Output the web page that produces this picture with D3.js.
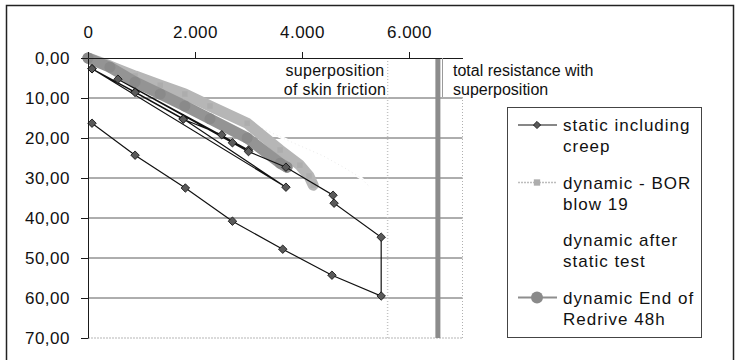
<!DOCTYPE html>
<html>
<head>
<meta charset="utf-8">
<script src="https://cdn.jsdelivr.net/npm/d3@7"></script>
<style>
  body { margin: 0; background: #fff; }
  svg { display: block; font-family: "Liberation Sans", Arial, sans-serif; }
</style>
</head>
<body>
<div id="chart"></div>
<script>
// load in kN (x), settlement in mm (y, downwards)
var xTicks = [0, 2000, 4000, 6000]
var yTicks = [0, 10, 20, 30, 40, 50, 60, 70]

var staticCreep = [
  {load: 75,   s: 2.7},
  {load: 880,  s: 8.5},
  {load: 1780, s: 15.2},
  {load: 3700, s: 32.3},
  {load: 75,   s: 2.7},
  {load: 880,  s: 8.6},
  {load: 1780, s: 15.3},
  {load: 2500, s: 19.2},
  {load: 2700, s: 21.2},
  {load: 3000, s: 23.0},
  {load: 560,  s: 5.3},
  {load: 3000, s: 23.4},
  {load: 3700, s: 27.3},
  {load: 4580, s: 34.3},
  {load: 4600, s: 36.3},
  {load: 5480, s: 44.8},
  {load: 5480, s: 59.5},
  {load: 4560, s: 54.3},
  {load: 3640, s: 47.8},
  {load: 2700, s: 40.8},
  {load: 1820, s: 32.5},
  {load: 880,  s: 24.3},
  {load: 75,   s: 16.3}
]

var dynBor = [
  {load: 0,    s: 0},
  {load: 410,  s: 2.0},
  {load: 880,  s: 4.5},
  {load: 1350, s: 6.8},
  {load: 1810, s: 9.0},
  {load: 2280, s: 12.0},
  {load: 2975, s: 16.3},
  {load: 3590, s: 23.0},
  {load: 3960, s: 26.8},
  {load: 4130, s: 29.5},
  {load: 4210, s: 31.8}
]

var dynAfterStatic = [
  {load: 0,    s: 0},
  {load: 1000, s: 4.5},
  {load: 2000, s: 10},
  {load: 3000, s: 16},
  {load: 3800, s: 21},
  {load: 4400, s: 24.5},
  {load: 4800, s: 27.5},
  {load: 5100, s: 30},
  {load: 5250, s: 32}
]

var dynRedrive = [
  {load: 0,    s: 0},
  {load: 410,  s: 2.3},
  {load: 880,  s: 6.0},
  {load: 1350, s: 9.0},
  {load: 1810, s: 12.0},
  {load: 2280, s: 15.2},
  {load: 2975, s: 20.0},
  {load: 3590, s: 26.3},
  {load: 3720, s: 27.3}
]

var skinFrictionLoad = 5600
var totalResistanceLoad = 6540

var legendLabels = [
  ['static including', 'creep'],
  ['dynamic - BOR', 'blow 19'],
  ['dynamic after', 'static test'],
  ['dynamic End of', 'Redrive 48h']
]

var fmtDe = d3.formatLocale({decimal: ',', thousands: '.', grouping: [3], currency: ['', '']})
var fmtX = fmtDe.format(',')
var fmtY = fmtDe.format('.2f')

var margin = {left: 88, top: 58}
var width = 374.5, height = 280

var svg = d3.select('#chart').append('svg')
  .attr('width', 738).attr('height', 360)

// outer frame
svg.append('rect')
  .attr('x', 6.5).attr('y', 5.5).attr('width', 727).attr('height', 362)
  .attr('fill', 'none').attr('stroke', '#222').attr('stroke-width', 1.5)

var g = svg.append('g').attr('transform', 'translate(' + margin.left + ',' + margin.top + ')')

var x = d3.scaleLinear().domain([0, 7000]).range([0, width])
var y = d3.scaleLinear().domain([0, 70]).range([0, height])

//////////
// GRID //
//////////

g.selectAll('line.grid')
  .data(yTicks.filter(function(d){ return d > 0 && d < 70 }))
  .enter().append('line')
  .attr('class', 'grid')
  .attr('x1', 0).attr('x2', width)
  .attr('y1', function(d){ return y(d) }).attr('y2', function(d){ return y(d) })
  .attr('stroke', '#5c5c5c').attr('stroke-width', 1)

// bottom + right edge, light dotted
g.append('line')
  .attr('x1', 0).attr('x2', width).attr('y1', y(70)).attr('y2', y(70))
  .attr('stroke', '#b5b5b5').attr('stroke-dasharray', '2,1')
g.append('line')
  .attr('x1', width).attr('x2', width).attr('y1', 0).attr('y2', height)
  .attr('stroke', '#b0b0b0').attr('stroke-dasharray', '1,2')

/////////////////////
// REFERENCE LINES //
/////////////////////

g.append('line')
  .attr('x1', x(skinFrictionLoad)).attr('x2', x(skinFrictionLoad))
  .attr('y1', 0).attr('y2', height)
  .attr('stroke', '#c4c4c4').attr('stroke-width', 1.5).attr('stroke-dasharray', '1,2')

g.append('line')
  .attr('x1', x(totalResistanceLoad)).attr('x2', x(totalResistanceLoad))
  .attr('y1', 0).attr('y2', height)
  .attr('stroke', '#8c8c8c').attr('stroke-width', 5)

////////////
// SERIES //
////////////

var line = d3.line().x(function(d){ return x(d.load) }).y(function(d){ return y(d.s) })

// dynamic after static test (white)
g.append('path').attr('d', line(dynAfterStatic))
  .attr('fill', 'none').attr('stroke', '#fff').attr('stroke-width', 3)
g.append('path').attr('d', line(dynAfterStatic))
  .attr('fill', 'none').attr('stroke', '#ebebeb').attr('stroke-width', 1).attr('stroke-dasharray', '1,3')

// dynamic - BOR blow 19
g.append('path').attr('d', line(dynBor))
  .attr('fill', 'none').attr('stroke', '#b6b6b6').attr('stroke-width', 11)
  .attr('stroke-linecap', 'round').attr('stroke-linejoin', 'round')
g.selectAll('path.bor').data(dynBor).enter().append('path')
  .attr('class', 'bor')
  .attr('d', d3.symbol(d3.symbolSquare, 30))
  .attr('transform', function(d){ return 'translate(' + x(d.load) + ',' + y(d.s) + ')' })
  .attr('fill', '#adadad')

// dynamic End of Redrive 48h
g.append('path').attr('d', line(dynRedrive))
  .attr('fill', 'none').attr('stroke', '#949494').attr('stroke-width', 11)
  .attr('stroke-linecap', 'round').attr('stroke-linejoin', 'round')
g.selectAll('circle.eor').data(dynRedrive).enter().append('circle')
  .attr('class', 'eor')
  .attr('cx', function(d){ return x(d.load) }).attr('cy', function(d){ return y(d.s) })
  .attr('r', 5.5).attr('fill', '#8a8a8a')

// static including creep
g.append('path').attr('d', line(staticCreep))
  .attr('fill', 'none').attr('stroke', '#111').attr('stroke-width', 1.2)
g.selectAll('path.st').data(staticCreep).enter().append('path')
  .attr('class', 'st')
  .attr('d', d3.symbol(d3.symbolSquare, 36))
  .attr('transform', function(d){ return 'translate(' + x(d.load) + ',' + y(d.s) + ') rotate(45)' })
  .attr('fill', '#5a5a5a').attr('stroke', '#111').attr('stroke-width', 0.8)

//////////
// AXIS //
//////////

var xAxisG = g.append('g')
  .call(d3.axisTop(x).tickValues(xTicks).tickSize(6).tickSizeOuter(0).tickPadding(14).tickFormat(fmtX))
var yAxisG = g.append('g')
  .call(d3.axisLeft(y).tickValues(yTicks).tickSize(7).tickSizeOuter(0).tickPadding(11).tickFormat(fmtY))

g.selectAll('.domain, .tick line').attr('stroke', '#1a1a1a')
g.selectAll('.tick text')
  .attr('font-size', 17).attr('fill', '#111')
  .style('letter-spacing', '0.5px')
  .style('font-family', '"Liberation Sans", Arial, sans-serif')

////////////
// LABELS //
////////////

svg.append('rect').attr('x', 279).attr('y', 60).attr('width', 108).attr('height', 37).attr('fill', '#fff')
svg.append('text').attr('x', 335).attr('y', 76).attr('text-anchor', 'middle')
  .attr('font-size', 16).style('letter-spacing', '0.3px').attr('fill', '#111').text('superposition')
svg.append('text').attr('x', 335).attr('y', 95).attr('text-anchor', 'middle')
  .attr('font-size', 16).style('letter-spacing', '0.3px').attr('fill', '#111').text('of skin friction')

svg.append('rect').attr('x', 442).attr('y', 59).attr('width', 170).attr('height', 38).attr('fill', '#fff')
svg.append('line').attr('x1', 442.5).attr('x2', 442.5).attr('y1', 58).attr('y2', 97)
  .attr('stroke', '#9a9a9a')
svg.append('text').attr('x', 453).attr('y', 76)
  .attr('font-size', 16).attr('fill', '#111').text('total resistance with')
svg.append('text').attr('x', 453).attr('y', 95)
  .attr('font-size', 16).attr('fill', '#111').text('superposition')

////////////
// LEGEND //
////////////

var leg = svg.append('g')
leg.append('rect').attr('x', 507.5).attr('y', 107.5).attr('width', 194).attr('height', 230)
  .attr('fill', '#fff').attr('stroke', '#444')

var entries = leg.selectAll('g.entry').data(legendLabels).enter().append('g')
  .attr('class', 'entry')
  .attr('transform', function(d, i){ return 'translate(0,' + (131 + i * 57.5) + ')' })

entries.append('text').attr('x', 563).attr('y', 0)
  .attr('font-size', 17).style('letter-spacing', '1px').attr('fill', '#111')
  .text(function(d){ return d[0] })
entries.append('text').attr('x', 563).attr('y', 21)
  .attr('font-size', 17).style('letter-spacing', '1px').attr('fill', '#111')
  .text(function(d){ return d[1] })

var e0 = d3.select(entries.nodes()[0])
e0.append('line').attr('x1', 518).attr('x2', 557).attr('y1', -6).attr('y2', -6)
  .attr('stroke', '#111').attr('stroke-width', 1.2)
e0.append('path').attr('d', d3.symbol(d3.symbolSquare, 26))
  .attr('transform', 'translate(537,-6) rotate(45)')
  .attr('fill', '#5a5a5a').attr('stroke', '#111').attr('stroke-width', 0.8)

var e1 = d3.select(entries.nodes()[1])
e1.append('line').attr('x1', 518).attr('x2', 557).attr('y1', -6).attr('y2', -6)
  .attr('stroke', '#bdbdbd').attr('stroke-width', 1.5).attr('stroke-dasharray', '2,1')
e1.append('path').attr('d', d3.symbol(d3.symbolSquare, 40))
  .attr('transform', 'translate(537,-6)').attr('fill', '#adadad')

var e3 = d3.select(entries.nodes()[3])
e3.append('line').attr('x1', 518).attr('x2', 557).attr('y1', -6).attr('y2', -6)
  .attr('stroke', '#8e8e8e').attr('stroke-width', 2)
e3.append('circle').attr('cx', 537).attr('cy', -6).attr('r', 6).attr('fill', '#8a8a8a')
</script>
</body>
</html>
